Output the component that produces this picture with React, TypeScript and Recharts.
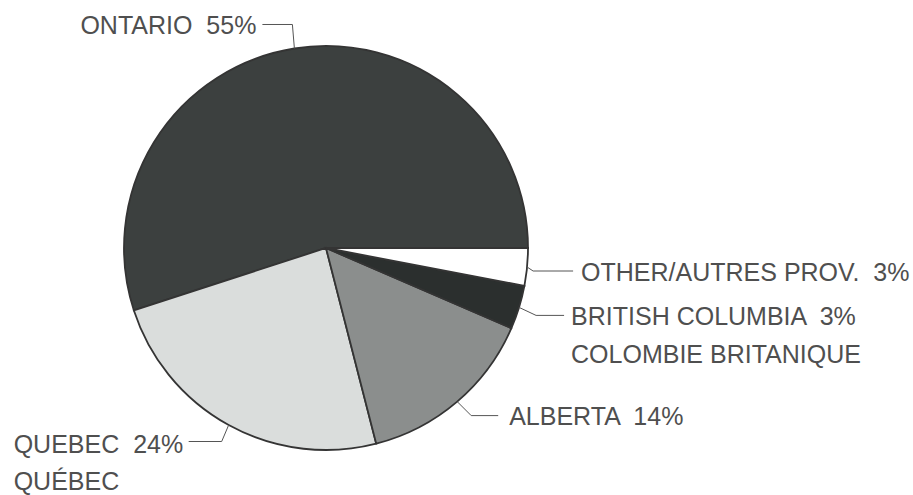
import React from 'react';
import { PieChart, Pie, Cell } from 'recharts';

const provinces = ['ONTARIO', 'QUEBEC', 'ALBERTA', 'BRITISH COLUMBIA', 'OTHER/AUTRES PROV.'];
const frenchNames = ['', 'QUÉBEC', '', 'COLOMBIE BRITANIQUE', ''];
const shares = [55, 24, 14.5, 3.5, 3];
const shareLabels = ['55%', '24%', '14%', '3%', '3%'];

const sliceColors = ['#3c403f', '#dadddc', '#8b8e8d', '#2b2f2e', '#ffffff'];

const data = provinces.map((name, i) => ({
  name,
  value: shares[i],
  pct: shareLabels[i],
  fr: frenchNames[i],
}));

// label layout: leader-line elbow offsets from the slice's outer mid point, text offset
const labelLayout = [
  { pts: [[-2, -24], [-32, -24]], tx: -38, ty: -23, anchor: 'end', line2dy: 0 },
  { pts: [[-7, 16.5], [-40, 16.5]], tx: -215, ty: 19, anchor: 'start', line2dy: 37 },
  { pts: [[14, 14], [41, 14]], tx: 52, ty: 14.5, anchor: 'start', line2dy: 0 },
  { pts: [[17, 8], [45, 8]], tx: 52, ty: 8.5, anchor: 'start', line2dy: 38 },
  { pts: [[6, 4], [46, 4]], tx: 54, ty: 5, anchor: 'start', line2dy: 0 },
];

const RADIAN = Math.PI / 180;
const textColor = '#4f4f4f';
const fontFamily = '"Liberation Sans", Arial, Helvetica, sans-serif';

const renderLabel = (props: any) => {
  const { cx, cy, midAngle, outerRadius, index } = props;
  const px = cx + outerRadius * Math.cos(-midAngle * RADIAN);
  const py = cy + outerRadius * Math.sin(-midAngle * RADIAN);
  const lay = labelLayout[index];
  const d = `M${px},${py} ` + lay.pts.map((p) => `L${px + p[0]},${py + p[1]}`).join(' ');
  const d0 = data[index];
  const tx = px + lay.tx;
  const ty = py + lay.ty;
  return (
    <g key={`lbl-${index}`}>
      <path d={d} stroke="#555" strokeWidth={1} fill="none" />
      <text
        x={tx}
        y={ty}
        textAnchor={lay.anchor as any}
        dominantBaseline="central"
        fill={textColor}
        fontSize={25}
        fontFamily={fontFamily}
        style={{ whiteSpace: 'pre' }}
      >
        {`${d0.name}  ${d0.pct}`}
      </text>
      {d0.fr ? (
        <text
          x={tx}
          y={ty + lay.line2dy}
          textAnchor={lay.anchor as any}
          dominantBaseline="central"
          fill={textColor}
          fontSize={25}
          fontFamily={fontFamily}
        >
          {d0.fr}
        </text>
      ) : null}
    </g>
  );
};

export default function App() {
  return (
    <div style={{ position: 'absolute', left: 0, top: 0, width: 913, height: 495, background: '#fff' }}>
      <PieChart width={913} height={495} margin={{ top: 0, right: 0, bottom: 0, left: 0 }}>
        <Pie
          data={data}
          dataKey="value"
          nameKey="name"
          cx={326}
          cy={248}
          outerRadius={202}
          startAngle={0}
          endAngle={360}
          stroke="#343434"
          strokeWidth={1.8}
          label={renderLabel}
          labelLine={false}
          isAnimationActive={false}
        >
          {data.map((d, i) => (
            <Cell key={d.name} fill={sliceColors[i]} />
          ))}
        </Pie>
      </PieChart>
    </div>
  );
}
